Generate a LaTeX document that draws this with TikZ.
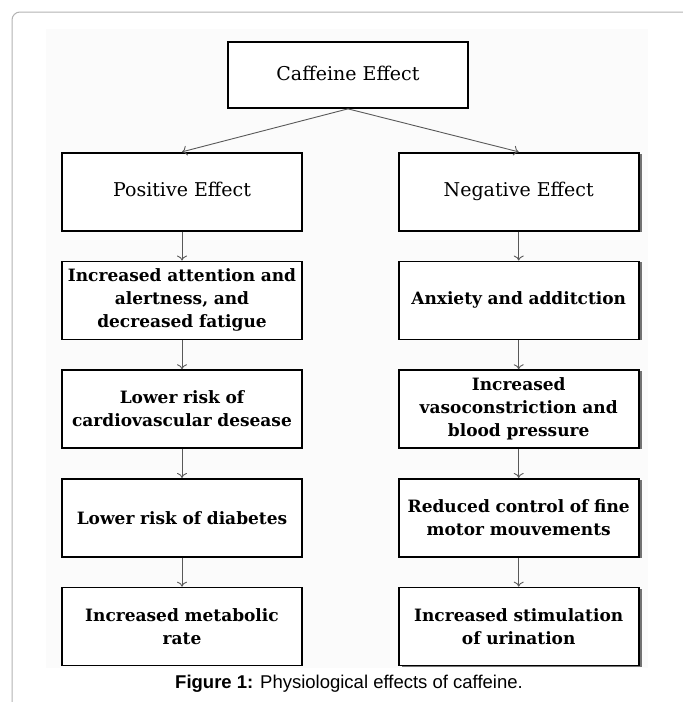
\documentclass[tikz,border=0pt]{standalone}
\usepackage{fontspec}
\setmainfont{DejaVu Serif}
\newfontfamily\capfont{Liberation Sans}
\usetikzlibrary{positioning,shadows,arrows.meta}

\begin{document}
\begin{tikzpicture}[x=1pt, y=-1pt,
					head/.style={rectangle, draw=black, line width=1.7pt, fill=white, minimum width=240pt, minimum height=78pt, align=center, text height=14pt, text depth=4pt, font=\fontsize{19}{23}\selectfont},
					effect/.style={head, text height=, text depth=, text width=232pt, font=\bfseries\fontsize{17}{23}\selectfont},
					shade/.style={general shadow={fill=black!55, shadow xshift=3pt, shadow yshift=-1pt}},
					node distance=29pt
				]
				\useasboundingbox (0,0) rectangle (683,702);
				\fill[black!1.5] (46,29) rectangle (648,668);
				\draw[black!30, line width=1pt, rounded corners=8pt] (12,702) -- (12,12) -- (683,12);
				\node[head, minimum height=66pt] (caffeine) at (348,75) {Caffeine Effect};
				\node[head] (positive) at (182,191.7) {Positive Effect};
				\node[head, shade] (negative) [right=95pt of positive] {Negative Effect};
				\node[effect] (attention) [below=of positive] {Increased attention and\\alertness, and\\decreased fatigue};
				\node[effect] (cardio) [below=of attention] {Lower risk of\\cardiovascular desease};
				\node[effect] (diabetes) [below=of cardio] {Lower risk of diabetes};
				\node[effect] (metabolic) [below=of diabetes] {Increased metabolic\\rate};
				\node[effect, shade] (anxiety) [below=of negative] {Anxiety and additction};
				\node[effect, shade] (vaso) [below=of anxiety] {Increased\\vasoconstriction and\\blood pressure};
				\node[effect, shade] (motor) [below=of vaso] {Reduced control of fine\\motor mouvements};
				\node[effect, shade] (urination) [below=of motor] {Increased stimulation\\of urination};
				\node[font=\capfont\fontsize{18.5}{22}\selectfont] (caption) at (349,684) {\textbf{Figure 1:} Physiological effects of caffeine.};
				\begin{scope}[black!65, line width=0.9pt, -{To[length=5pt, width=10pt]}]
				\draw (caffeine.south) -- (positive.north);
				\draw (caffeine.south) -- (negative.north);
				\draw (positive.south) -- (attention.north);
				\draw (attention.south) -- (cardio.north);
				\draw (cardio.south) -- (diabetes.north);
				\draw (diabetes.south) -- (metabolic.north);
				\draw (negative.south) -- (anxiety.north);
				\draw (anxiety.south) -- (vaso.north);
				\draw (vaso.south) -- (motor.north);
				\draw (motor.south) -- (urination.north);
				\end{scope}
				\end{tikzpicture}
\end{document}
